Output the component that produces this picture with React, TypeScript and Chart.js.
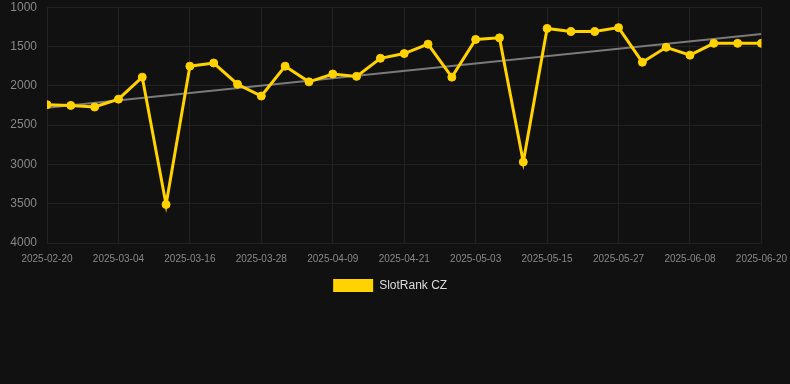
import React, { useEffect, useRef } from "react";
import { Chart, registerables } from "chart.js";

Chart.register(...registerables);

const dates = [
  "2025-02-20", "2025-02-24", "2025-02-28", "2025-03-04", "2025-03-08", "2025-03-12",
  "2025-03-16", "2025-03-20", "2025-03-24", "2025-03-28", "2025-04-01", "2025-04-05",
  "2025-04-09", "2025-04-13", "2025-04-17", "2025-04-21", "2025-04-25", "2025-04-29",
  "2025-05-03", "2025-05-07", "2025-05-11", "2025-05-15", "2025-05-19", "2025-05-23",
  "2025-05-27", "2025-05-31", "2025-06-04", "2025-06-08", "2025-06-12", "2025-06-16",
  "2025-06-20",
];

const ranks = [
  2240, 2250, 2270, 2170, 1890, 3510, 1750, 1710, 1980, 2130, 1750, 1950, 1850, 1880,
  1650, 1590, 1470, 1890, 1410, 1390, 2970, 1270, 1310, 1310, 1260, 1700, 1510, 1610,
  1460, 1460, 1460,
];

const trendDates = ["2025-02-20", "2025-06-20"];
const trendValues = [2280, 1340];

const yTicks = [1000, 1500, 2000, 2500, 3000, 3500, 4000];

const DAY = 86400000;
const start = Date.parse(dates[0] + "T00:00:00Z");
const toDay = (d: string) => Math.round((Date.parse(d + "T00:00:00Z") - start) / DAY);
const fmt = (day: number) => new Date(start + day * DAY).toISOString().slice(0, 10);

export default function App() {
  const ref = useRef<HTMLCanvasElement | null>(null);
  useEffect(() => {
    document.body.style.margin = "0";
    document.body.style.background = "#111111";
    const ctx = ref.current!;
    const font = "'Liberation Sans', Arial, sans-serif";
    const chart = new Chart(ctx, {
      type: "line",
      data: {
        datasets: [
          {
            label: "SlotRank CZ",
            data: dates.map((d, i) => ({ x: toDay(d), y: ranks[i] })),
            borderColor: "#FFD200",
            backgroundColor: "#FFD200",
            borderWidth: 3,
            pointRadius: 4,
            pointBorderWidth: 1,
            pointHoverRadius: 4,
            pointBackgroundColor: "#FFD200",
            pointBorderColor: "#FFD200",
            tension: 0,
          },
          {
            label: "trend",
            data: trendDates.map((d, i) => ({ x: toDay(d), y: trendValues[i] })),
            borderColor: "#7a7a7a",
            borderWidth: 2,
            pointRadius: 0,
            tension: 0,
          },
        ],
      },
      options: {
        animation: false,
        responsive: true,
        maintainAspectRatio: false,
        layout: { padding: { top: 0, left: 0, right: 3, bottom: 0 } },
        scales: {
          x: {
            type: "linear",
            min: 0,
            max: 120,
            ticks: {
              stepSize: 12,
              color: "#888888",
              font: { family: font, size: 10 },
              maxRotation: 0,
              padding: 3,
              callback: (v: any) => fmt(Number(v)),
            },
            grid: {
              color: "#222222",
              drawTicks: true,
              tickLength: 7,
              tickColor: "rgba(0,0,0,0)",
            },
            border: { display: false },
          },
          y: {
            reverse: true,
            min: 1000,
            max: 4000,
            afterBuildTicks: (axis: any) => {
              axis.ticks = yTicks.map((v) => ({ value: v }));
            },
            afterFit: (axis: any) => {
              axis.width = 47;
            },
            ticks: {
              color: "#888888",
              font: { family: font, size: 12 },
              padding: 0,
              callback: (v: any) => String(v),
            },
            grid: {
              color: "#222222",
              drawTicks: true,
              tickLength: 10,
              tickColor: "rgba(0,0,0,0)",
            },
            border: { display: false },
          },
        },
        plugins: {
          legend: {
            position: "bottom",
            labels: {
              color: "#dddddd",
              font: { family: font, size: 12 },
              boxWidth: 40,
              boxHeight: 13,
              padding: 11,
              generateLabels: (c: any) => {
                const items = Chart.defaults.plugins.legend.labels.generateLabels(c);
                return items
                  .filter((it: any) => it.text !== "trend")
                  .map((it: any) => ({ ...it, text: it.text + "  ", lineWidth: 0 }));
              },
            },
          },
          tooltip: { enabled: false },
        },
      },
    });
    return () => chart.destroy();
  }, []);
  return (
    <div style={{ width: 790, height: 384, background: "#111111" }}>
      <div style={{ width: 790, height: 302, position: "relative" }}>
        <canvas ref={ref} />
      </div>
    </div>
  );
}
